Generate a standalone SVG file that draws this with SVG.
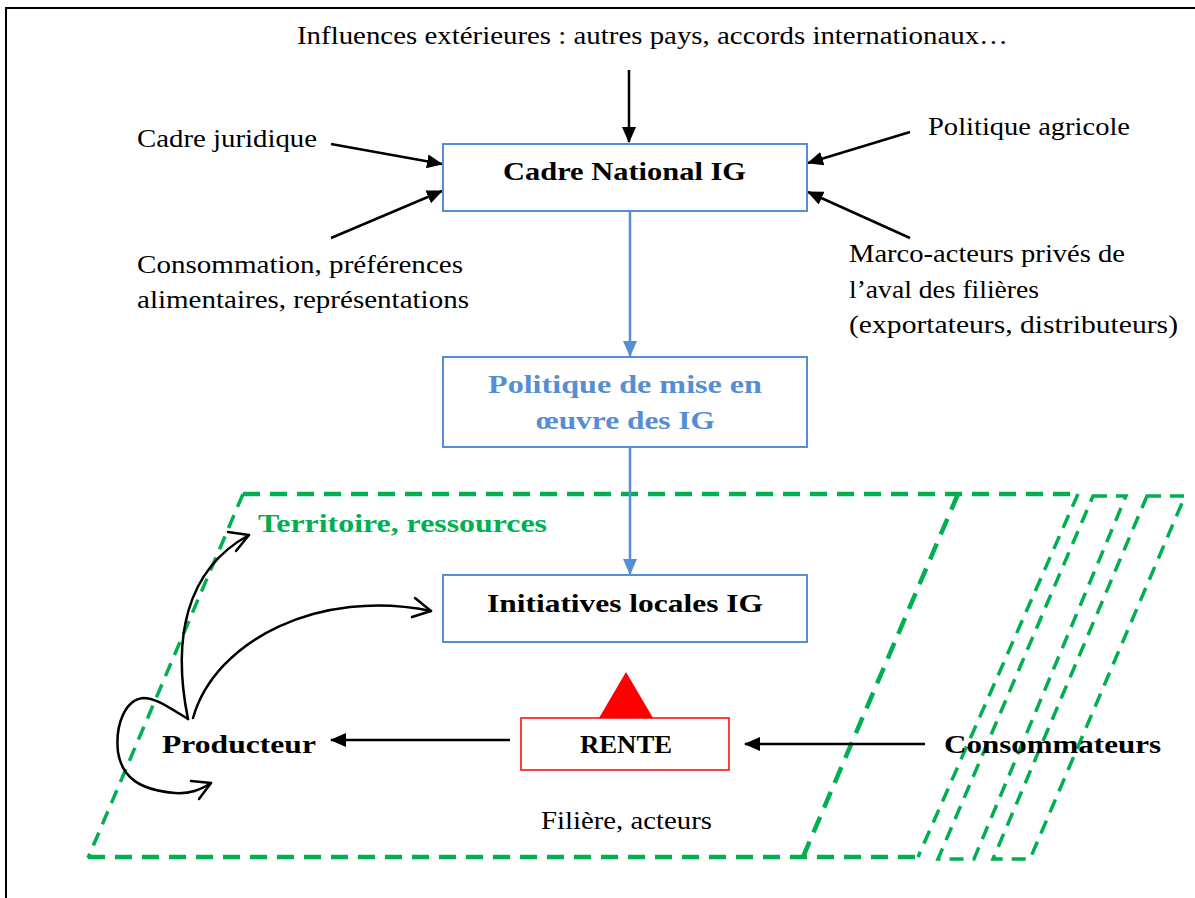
<svg xmlns="http://www.w3.org/2000/svg" width="1195" height="898" viewBox="0 0 1195 898">
<style>
.t{font-family:"Liberation Serif","Times New Roman",serif;font-size:26px;fill:#000}
.b{font-weight:bold}
.blue{fill:#558ED5}
.green{fill:#00B050}
.box{fill:#fff;stroke:#558ED5;stroke-width:2}
.ar{stroke:#000;stroke-width:2.5;fill:none}
.bar{stroke:#558ED5;stroke-width:2.5;fill:none}
.cv{stroke:#000;stroke-width:2.5;fill:none;stroke-linecap:round;stroke-linejoin:round}
.gk{stroke:#00B050;stroke-width:4.5;fill:none;stroke-dasharray:17 10}
.gn{stroke:#00B050;stroke-width:3.5;fill:none;stroke-dasharray:14 9}
</style>
<defs>
<marker id="ah" markerUnits="userSpaceOnUse" markerWidth="16" markerHeight="14" refX="15" refY="7" orient="auto">
<path d="M0,0 L16,7 L0,14 Z" fill="#000"/>
</marker>
<marker id="bh" markerUnits="userSpaceOnUse" markerWidth="16" markerHeight="14" refX="15" refY="7" orient="auto">
<path d="M0,0 L16,7 L0,14 Z" fill="#558ED5"/>
</marker>
</defs>
<rect width="1195" height="898" fill="#fff"/>
<path d="M6,898 V8 H1195" fill="none" stroke="#000" stroke-width="2"/>

<g id="zone-territoire">
<path class="gk" d="M243,494 H1078"/>
<path class="gn" d="M243,494 L88,858"/>
<path class="gk" d="M88,857 H918"/>
<path class="gk" d="M958,494 L803,857"/>
<path class="gn" d="M1078,494 L918,857"/>
<path class="gn" d="M1093,496 H1126 L974,859 H938 Z"/>
<path class="gn" d="M1147,496 H1185 L1030,859 H993 Z"/>
<text class="t b green" x="258" y="532" textLength="289" lengthAdjust="spacingAndGlyphs">Territoire, ressources</text>
<text class="t" x="541" y="829" textLength="171" lengthAdjust="spacingAndGlyphs">Filière, acteurs</text>
</g>

<g id="connectors">
<line class="ar" x1="629" y1="70" x2="629" y2="142" marker-end="url(#ah)"/>
<line class="ar" x1="331" y1="144" x2="442" y2="164" marker-end="url(#ah)"/>
<line class="ar" x1="331" y1="238" x2="442" y2="191" marker-end="url(#ah)"/>
<line class="ar" x1="910" y1="132" x2="808" y2="163" marker-end="url(#ah)"/>
<line class="ar" x1="910" y1="238" x2="808" y2="192" marker-end="url(#ah)"/>
<line class="bar" x1="630" y1="211" x2="630" y2="356" marker-end="url(#bh)"/>
<line class="bar" x1="630" y1="447" x2="630" y2="574" marker-end="url(#bh)"/>
<line class="ar" x1="510" y1="740" x2="331" y2="740" marker-end="url(#ah)"/>
<line class="ar" x1="925" y1="744" x2="745" y2="744" marker-end="url(#ah)"/>
<path class="cv" d="M188,719 C172,640 185,570 249,535"/>
<path class="cv" d="M228,532 L249,535 L236,551"/>
<path class="cv" d="M193,718 C215,640 320,588 431,611"/>
<path class="cv" d="M415,598 L431,611 L412,617"/>
<path class="cv" d="M188,719 C165,705 155,698 143,698 C125,700 115,725 118,752 C122,778 140,790 175,793 C190,794 200,790 211,783"/>
<path class="cv" d="M191,781 L211,783 L199,799"/>
</g>

<g id="influences"><text class="t" x="297" y="44" textLength="711" lengthAdjust="spacingAndGlyphs">Influences extérieures : autres pays, accords internationaux…</text></g>
<g id="cadre-juridique"><text class="t" x="137" y="147" textLength="180" lengthAdjust="spacingAndGlyphs">Cadre juridique</text></g>
<g id="consommation">
<text class="t" x="137" y="273" textLength="326" lengthAdjust="spacingAndGlyphs">Consommation, préférences</text>
<text class="t" x="137" y="308" textLength="332" lengthAdjust="spacingAndGlyphs">alimentaires, représentations</text>
</g>
<g id="politique-agricole"><text class="t" x="928" y="135" textLength="202" lengthAdjust="spacingAndGlyphs">Politique agricole</text></g>
<g id="marco-acteurs">
<text class="t" x="849" y="262" textLength="276" lengthAdjust="spacingAndGlyphs">Marco-acteurs privés de</text>
<text class="t" x="849" y="298" textLength="190" lengthAdjust="spacingAndGlyphs">l’aval des filières</text>
<text class="t" x="849" y="333" textLength="329" lengthAdjust="spacingAndGlyphs">(exportateurs, distributeurs)</text>
</g>

<g id="cadre-national">
<rect class="box" x="443" y="144" width="364" height="67"/>
<text class="t b" x="503" y="180" textLength="243" lengthAdjust="spacingAndGlyphs">Cadre National IG</text>
</g>
<g id="politique-mise-en-oeuvre">
<rect class="box" x="443" y="357" width="364" height="90"/>
<text class="t b blue" x="488" y="393" textLength="274" lengthAdjust="spacingAndGlyphs">Politique de mise en</text>
<text class="t b blue" x="536" y="429" textLength="179" lengthAdjust="spacingAndGlyphs">œuvre des IG</text>
</g>
<g id="initiatives-locales">
<rect class="box" x="443" y="575" width="364" height="67"/>
<text class="t b" x="487" y="612" textLength="276" lengthAdjust="spacingAndGlyphs">Initiatives locales IG</text>
</g>
<g id="rente">
<rect x="521" y="718" width="208" height="52" fill="#fff" stroke="#f00" stroke-width="1.5"/>
<path d="M626,672 L653,718 L599,718 Z" fill="#f00"/>
<text class="t b" x="580" y="753" textLength="92" lengthAdjust="spacingAndGlyphs">RENTE</text>
</g>
<g id="producteur"><text class="t b" x="162" y="753" textLength="154" lengthAdjust="spacingAndGlyphs">Producteur</text></g>
<g id="consommateurs"><text class="t b" x="944" y="753" textLength="217" lengthAdjust="spacingAndGlyphs">Consommateurs</text></g>
</svg>
